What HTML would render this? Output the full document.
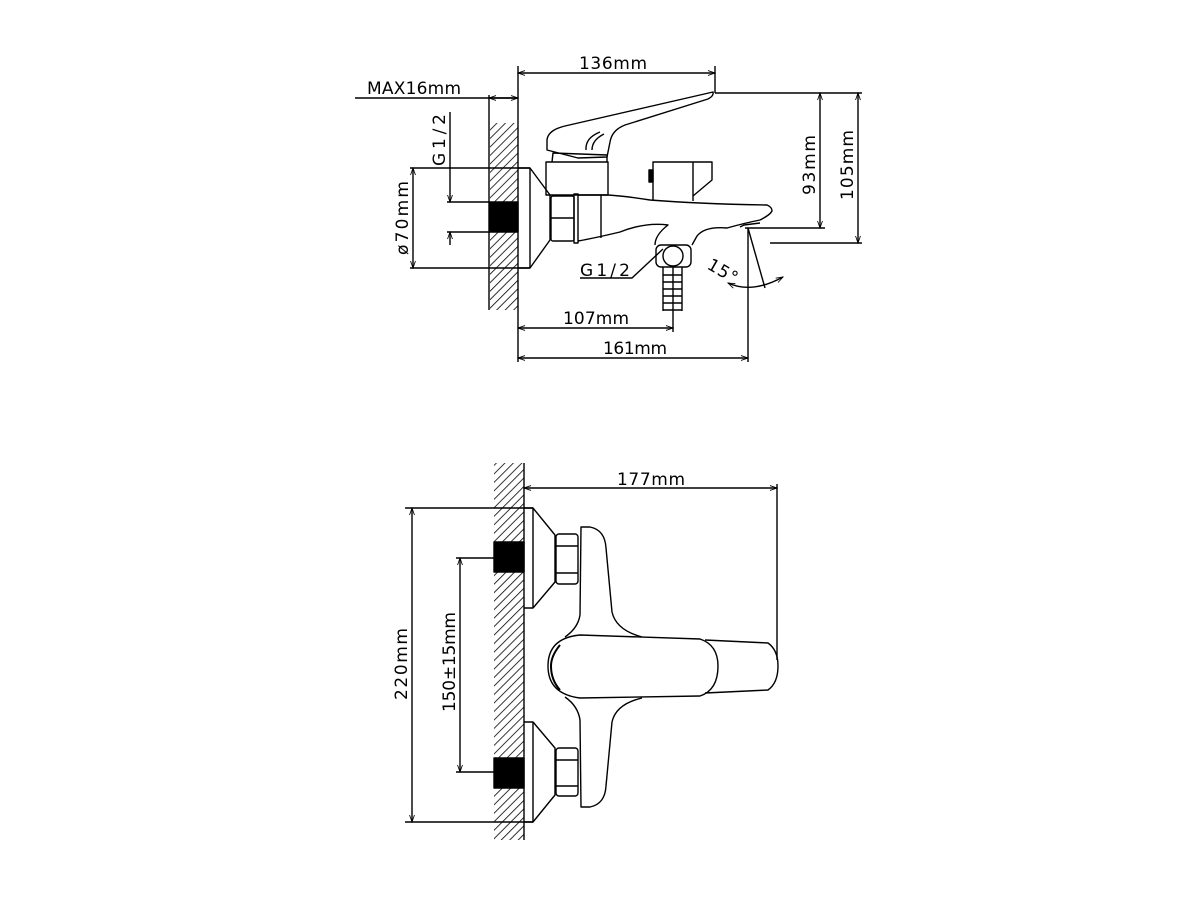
<!DOCTYPE html>
<html><head><meta charset="utf-8"><style>
html,body{margin:0;padding:0;background:#fff}
svg{display:block}
text{font-family:"DejaVu Sans","Liberation Sans",sans-serif;font-size:17px;fill:#000}
</style></head><body>
<svg width="1200" height="900" viewBox="0 0 1200 900" xmlns="http://www.w3.org/2000/svg">
<defs>
<pattern id="h" width="6" height="6" patternUnits="userSpaceOnUse" patternTransform="rotate(45)">
<line x1="0" y1="0" x2="0" y2="6" stroke="#000" stroke-width="1.6"/>
</pattern>
<marker id="a" viewBox="0 0 10 10" refX="10" refY="5" markerWidth="9" markerHeight="7" orient="auto-start-reverse" markerUnits="userSpaceOnUse">
<path d="M0,1.5 L10,5 L0,8.5" fill="none" stroke="#000" stroke-width="1.2"/>
</marker>
</defs>
<g fill="none" stroke="#000" stroke-width="1.4" stroke-linejoin="round">
<!-- ===== TOP VIEW ===== -->
<rect x="490" y="123" width="28" height="187" fill="url(#h)" stroke="none"/>
<line x1="518" y1="66" x2="518" y2="362"/>
<line x1="489" y1="95" x2="489" y2="310"/>
<rect x="490" y="202" width="28" height="30" fill="#000"/>
<line x1="518" y1="73" x2="715" y2="73" marker-start="url(#a)" marker-end="url(#a)"/>
<line x1="715" y1="66" x2="715" y2="93"/>
<line x1="355" y1="98" x2="518" y2="98"/>
<line x1="489" y1="98" x2="518" y2="98" marker-start="url(#a)" marker-end="url(#a)"/>
<line x1="410" y1="168" x2="530" y2="168"/>
<line x1="410" y1="268" x2="530" y2="268"/>
<line x1="413" y1="168" x2="413" y2="268" marker-start="url(#a)" marker-end="url(#a)"/>
<line x1="447" y1="202" x2="490" y2="202"/>
<line x1="447" y1="232" x2="490" y2="232"/>
<line x1="450" y1="112" x2="450" y2="202" marker-end="url(#a)"/>
<line x1="450" y1="245" x2="450" y2="232" marker-end="url(#a)"/>
<line x1="715" y1="93" x2="862" y2="93"/>
<line x1="745" y1="228" x2="825" y2="228"/>
<line x1="770" y1="243" x2="862" y2="243"/>
<line x1="820" y1="93" x2="820" y2="228" marker-start="url(#a)" marker-end="url(#a)"/>
<line x1="858" y1="93" x2="858" y2="243" marker-start="url(#a)" marker-end="url(#a)"/>
<line x1="748" y1="228" x2="748" y2="362"/>
<line x1="673" y1="267" x2="673" y2="332"/>
<line x1="518" y1="328" x2="673" y2="328" marker-start="url(#a)" marker-end="url(#a)"/>
<line x1="518" y1="358" x2="748" y2="358" marker-start="url(#a)" marker-end="url(#a)"/>
<line x1="748" y1="228" x2="765" y2="288"/>
<path d="M728,283 Q752,294 783,277" marker-start="url(#a)" marker-end="url(#a)"/>
<!-- flange -->
<path d="M518,168 L530,168 L550,195 L550,240 L530,268 L518,268"/>
<line x1="530" y1="168" x2="530" y2="268"/>
<!-- nut -->
<rect x="551" y="196" width="23" height="45" rx="2"/>
<line x1="551" y1="218" x2="574" y2="218"/>
<rect x="574" y="194" width="4" height="49"/>
<!-- column -->
<rect x="546" y="162" width="62" height="33"/>
<path d="M552,162 L553,153 L607,155 L607,162"/>
<!-- lever -->
<path d="M713,92 Q714,96 708,99 L625,125 Q612,130 610,142 L607,157 L578,158 L547,150 L547,140 Q548,130 565,126 Z"/>
<path d="M586,150 Q585,138 600,132"/>
<path d="M592,150 Q592,140 604,134"/>
<!-- body / spout -->
<path d="M578,195 L608,195 Q625,196 650,200 Q700,204 767,205 Q772,207 772,211 Q770,215 760,220 Q745,223 727,228 Q705,226 697,236 L692,245"/>
<path d="M578,241 Q595,238 620,232 Q645,222 668,225 Q655,235 655,245"/>
<line x1="601" y1="195" x2="601" y2="238"/>
<path d="M740,227 L744,225 L760,223"/>
<!-- knob -->
<path d="M653,200 L653,162 L712,162 L712,180 L693,196"/>
<line x1="693" y1="162" x2="693" y2="201"/>
<rect x="649" y="170" width="4" height="12" fill="#000"/>
<!-- bottom fitting -->
<rect x="656" y="245" width="35" height="22" rx="5"/>
<circle cx="673" cy="256" r="10"/>
<line x1="663" y1="267" x2="663" y2="311"/>
<line x1="682" y1="267" x2="682" y2="311"/>
<path d="M663,275 H682 M663,282 H682 M663,289 H682 M663,296 H682 M663,303 H682 M663,310 H682"/>
<path d="M663,249 L632,278 L580,278"/>
<!-- ===== BOTTOM VIEW ===== -->
<rect x="494" y="463" width="30" height="377" fill="url(#h)" stroke="none"/>
<line x1="524" y1="463" x2="524" y2="840"/>
<rect x="494" y="542" width="30" height="30" fill="#000"/>
<rect x="494" y="758" width="30" height="30" fill="#000"/>
<line x1="524" y1="488" x2="777" y2="488" marker-start="url(#a)" marker-end="url(#a)"/>
<line x1="777" y1="484" x2="777" y2="660"/>
<line x1="405" y1="508" x2="533" y2="508"/>
<line x1="405" y1="822" x2="533" y2="822"/>
<line x1="412" y1="508" x2="412" y2="822" marker-start="url(#a)" marker-end="url(#a)"/>
<line x1="456" y1="558" x2="494" y2="558"/>
<line x1="456" y1="772" x2="494" y2="772"/>
<line x1="460" y1="558" x2="460" y2="772" marker-start="url(#a)" marker-end="url(#a)"/>
<path d="M524,508 L533,508 L555,535 L555,582 L533,608 L524,608"/>
<line x1="533" y1="508" x2="533" y2="608"/>
<path d="M524,722 L533,722 L555,748 L555,795 L533,822 L524,822"/>
<line x1="533" y1="722" x2="533" y2="822"/>
<rect x="556" y="534" width="22" height="50" rx="3"/>
<path d="M556,546 H578 M556,573 H578"/>
<rect x="556" y="748" width="22" height="48" rx="3"/>
<path d="M556,760 H578 M556,786 H578"/>
<path d="M565,637 Q578,628 580,615 L581,527 L590,527 Q605,530 606,548 L612,612 Q616,630 642,637"/>
<path d="M565,697 Q578,706 580,720 L581,807 L590,807 Q605,804 606,786 L612,722 Q616,704 642,698"/>
<path d="M705,640 L768,643 Q778,650 778,666 Q778,683 768,690 L705,693"/>
<path d="M580,635 L700,639 Q718,645 718,666 Q718,690 700,696 L580,698 Q548,694 548,666 Q548,638 580,635 Z"/>
<path d="M560,645 Q551,656 551,666 Q551,680 560,690" stroke-width="2"/>
</g>
<g>
<text x="579" y="69" textLength="68">136mm</text>
<text x="367" y="94" textLength="94">MAX16mm</text>
<text transform="translate(445,166) rotate(-90)" textLength="52">G1/2</text>
<text transform="translate(408,255) rotate(-90)" textLength="74">ø70mm</text>
<text transform="translate(815,195) rotate(-90)" textLength="60">93mm</text>
<text transform="translate(853,200) rotate(-90)" textLength="70">105mm</text>
<text x="580" y="276" textLength="50">G1/2</text>
<text transform="translate(706,268) rotate(30)" textLength="32">15°</text>
<text x="563" y="324" textLength="66">107mm</text>
<text x="603" y="354" textLength="64">161mm</text>
<text x="617" y="485" textLength="68">177mm</text>
<text transform="translate(407,700) rotate(-90)" textLength="72">220mm</text>
<text transform="translate(455,712) rotate(-90)" textLength="100">150±15mm</text>
</g>
</svg>
</body></html>
